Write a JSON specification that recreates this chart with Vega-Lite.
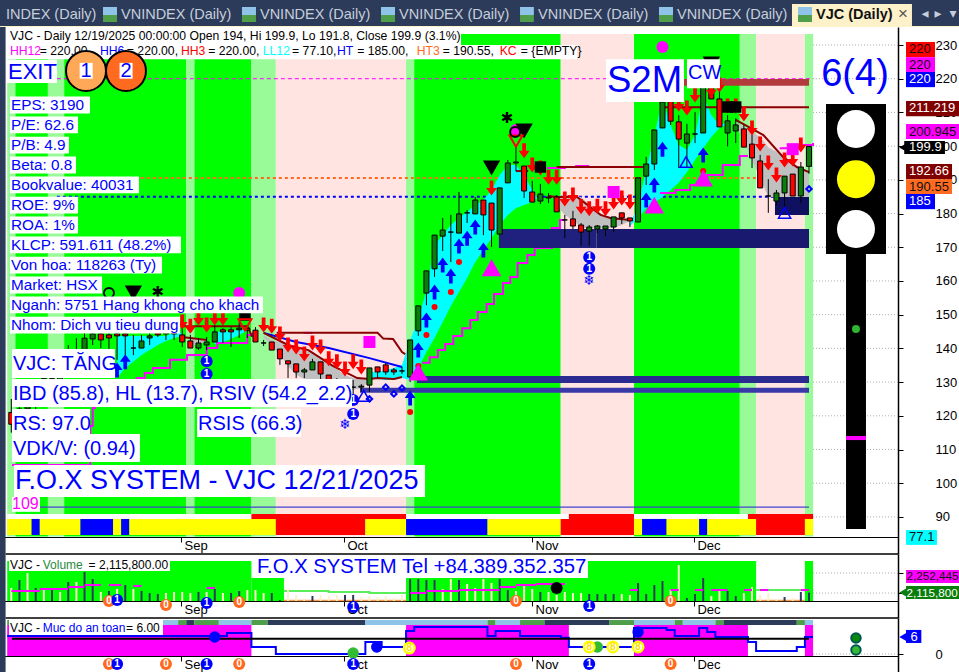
{"$schema":"https://vega.github.io/schema/vega-lite/v6.json","padding":0,"spacing":0,"bounds":"flush","background":"white","config":{"view":{"stroke":null},"font":"Liberation Sans","axis":{"title":null},"bar":{"opacity":1},"rect":{"opacity":1},"area":{"opacity":1}},
"datasets":{
"labels":[{"i":1.47,"p":222,"t":"EXIT","g":"exit"},{"i":1.84,"p":212.2,"t":"EPS: 3190","g":"info"},{"i":1.84,"p":206.3,"t":"P/E: 62.6","g":"info"},{"i":1.84,"p":200.3,"t":"P/B: 4.9","g":"info"},{"i":1.84,"p":194.4,"t":"Beta: 0.8","g":"info"},{"i":1.84,"p":188.5,"t":"Bookvalue: 40031","g":"info"},{"i":1.84,"p":182.5,"t":"ROE: 9%","g":"info"},{"i":1.84,"p":176.6,"t":"ROA: 1%","g":"info"},{"i":1.84,"p":170.7,"t":"KLCP: 591.611 (48.2%)","g":"info"},{"i":1.84,"p":164.7,"t":"Von hoa: 118263 (Ty)","g":"info"},{"i":1.84,"p":158.8,"t":"Market: HSX","g":"info"},{"i":1.84,"p":152.9,"t":"Nganh: 5751 Hang khong cho khach","g":"info"},{"i":1.84,"p":146.9,"t":"Nhom: Dich vu tieu dung","g":"info"},{"i":2.09,"p":135.4,"t":"VJC: TĂNG","g":"mid"},{"i":2.09,"p":126.5,"t":"IBD (85.8), HL (13.7), RSIV (54.2_2.2)","g":"mid"},{"i":2.09,"p":117.6,"t":"RS: 97.0","g":"mid"},{"i":24.82,"p":117.6,"t":"RSIS (66.3)","g":"mid"},{"i":2.09,"p":110.1,"t":"VDK/V:  (0.94)","g":"mid"},{"i":2.33,"p":100.7,"t":"F.O.X SYSTEM - VJC 12/21/2025","g":"fox"},{"i":75.06,"p":219.3,"t":"S2M","g":"s2m"},{"i":85.01,"p":221.7,"t":"CW","g":"cw"}],
"candles":[{"i":2,"o":121,"h":125,"l":115,"c":117.5},{"i":3,"o":118,"h":124,"l":116,"c":122},{"i":4,"o":122,"h":129,"l":120,"c":127},{"i":5,"o":127,"h":130,"l":122,"c":125},{"i":6,"o":125,"h":133,"l":124,"c":131},{"i":7,"o":131,"h":134,"l":127,"c":129},{"i":8,"o":129,"h":137,"l":128,"c":135},{"i":9,"o":135,"h":141,"l":133,"c":139},{"i":10,"o":139,"h":143,"l":135,"c":137},{"i":11,"o":137,"h":146,"l":136,"c":143},
{"i":12,"o":142.8,"h":146,"l":141,"c":144.3},{"i":13,"o":144.3,"h":146,"l":140.1,"c":142.5},{"i":14,"o":144,"h":145.5,"l":139.5,"c":143.1},{"i":15,"o":144.3,"h":146,"l":136.6,"c":143.7},{"i":16,"o":144.3,"h":146,"l":138,"c":143.7},{"i":17,"o":140.1,"h":144,"l":138,"c":140.1},{"i":18,"o":140.1,"h":144,"l":140.1,"c":142.2},{"i":19,"o":143.1,"h":145.5,"l":141,"c":143.7},{"i":20,"o":144.6,"h":146,"l":143.4,"c":144},{"i":21,"o":144.3,"h":146.9,"l":142.5,"c":145.5},{"i":22,"o":145.5,"h":146.9,"l":142.5,"c":144.3},{"i":23,"o":144,"h":146,"l":140.4,"c":141.9},{"i":24,"o":142.2,"h":144,"l":140.1,"c":140.1},{"i":25,"o":140.1,"h":143.1,"l":139.5,"c":141.6},{"i":26,"o":141,"h":143.4,"l":139.5,"c":141.9},{"i":27,"o":141.9,"h":146.9,"l":141.9,"c":144.9},{"i":28,"o":145.5,"h":146,"l":141.6,"c":144.9},{"i":29,"o":145.5,"h":146.3,"l":140.4,"c":144.9},{"i":30,"o":145.5,"h":147.8,"l":143.1,"c":146},
{"i":31,"o":146,"h":146.3,"l":143.1,"c":145.4},{"i":32,"o":145.4,"h":146.3,"l":141.9,"c":141.9},{"i":33,"o":141.6,"h":142.5,"l":140.7,"c":141.6},{"i":34,"o":141.9,"h":141.9,"l":139.5,"c":139.5},{"i":35,"o":139.8,"h":139.8,"l":135.1,"c":136.9},{"i":36,"o":136.3,"h":136.3,"l":131.2,"c":135.4},{"i":37,"o":135.4,"h":135.4,"l":131.2,"c":133},{"i":38,"o":133,"h":134.2,"l":131.2,"c":133.6},{"i":39,"o":133.6,"h":136.9,"l":133.6,"c":136},{"i":40,"o":136,"h":136,"l":130.6,"c":132.4},{"i":41,"o":132.1,"h":132.1,"l":126.2,"c":130.6},{"i":42,"o":130.6,"h":131.2,"l":126.2,"c":129.1},{"i":43,"o":130,"h":130.6,"l":126.2,"c":128.9},{"i":44,"o":128.5,"h":130.6,"l":126.2,"c":128.5},{"i":45,"o":128.5,"h":129.4,"l":127.1,"c":128.8},{"i":46,"o":129.1,"h":134.2,"l":127.1,"c":134.2},{"i":47,"o":134.5,"h":134.5,"l":131.2,"c":133},{"i":48,"o":135.1,"h":135.7,"l":132.1,"c":133},{"i":49,"o":133.6,"h":134.2,"l":132.1,"c":133},{"i":50,"o":133.3,"h":134.5,"l":132.4,"c":133.3},
{"i":51,"o":131.5,"h":142.5,"l":130,"c":142.5},{"i":52,"o":145.2,"h":152.6,"l":143.7,"c":152.6},{"i":53,"o":156.4,"h":163,"l":152.8,"c":163},{"i":54,"o":163.6,"h":173.6,"l":161.2,"c":173.6},{"i":55,"o":173.3,"h":178.7,"l":168.9,"c":175.1},{"i":56,"o":174.5,"h":179.6,"l":165.6,"c":174.5},{"i":57,"o":174.2,"h":186.4,"l":174.2,"c":179.9},{"i":58,"o":180.2,"h":181.05,"l":177.2,"c":180.2},{"i":59,"o":179.9,"h":184.9,"l":179.9,"c":184},{"i":60,"o":184,"h":184,"l":173.6,"c":179.6},{"i":61,"o":183.1,"h":183.1,"l":170.1,"c":175.1},{"i":62,"o":173.9,"h":187.6,"l":173.9,"c":187.6},{"i":63,"o":189.1,"h":195.9,"l":189.1,"c":195},{"i":64,"o":195,"h":199.7,"l":192.6,"c":195.3},{"i":65,"o":194.1,"h":194.1,"l":184.6,"c":186.7},{"i":66,"o":186.4,"h":189.7,"l":183.4,"c":183.4},{"i":67,"o":183.7,"h":188.8,"l":182.8,"c":185.8},{"i":68,"o":184.9,"h":186.1,"l":183.1,"c":184.6},{"i":69,"o":184.9,"h":185.5,"l":180.5,"c":180.5},{"i":70,"o":178.1,"h":179.6,"l":172.7,"c":178.1},{"i":71,"o":178.4,"h":180.8,"l":175.4,"c":176.3},{"i":72,"o":176.6,"h":177.2,"l":170.4,"c":174.5},{"i":73,"o":174.8,"h":176.6,"l":170.4,"c":176},{"i":74,"o":175.4,"h":176.6,"l":174.2,"c":176.3},{"i":75,"o":175.4,"h":176.3,"l":173.3,"c":176.3},{"i":76,"o":176,"h":179,"l":174.5,"c":179},{"i":77,"o":180.2,"h":180.2,"l":176.9,"c":178.7},{"i":78,"o":178.7,"h":178.7,"l":176,"c":177.8},{"i":79,"o":177.5,"h":190.6,"l":177.5,"c":190.6},{"i":80,"o":191.1,"h":196.8,"l":188.5,"c":194.7},{"i":81,"o":194.7,"h":204.8,"l":192.9,"c":204.8},{"i":82,"o":205.4,"h":215.2,"l":205.4,"c":213.1},{"i":83,"o":213.7,"h":215.2,"l":206.3,"c":207.4},{"i":84,"o":207.2,"h":209.2,"l":193.5,"c":202.1},{"i":85,"o":200.9,"h":206.6,"l":193.5,"c":203.6},{"i":86,"o":203.6,"h":210.1,"l":200.9,"c":203.6},{"i":87,"o":203.9,"h":221.1,"l":203.9,"c":219.6},{"i":88,"o":219.6,"h":221.1,"l":214,"c":214},{"i":89,"o":214,"h":218.1,"l":205.7,"c":205.7},{"i":90,"o":203.9,"h":209.2,"l":199.9,"c":207.5},{"i":91,"o":204.5,"h":208.3,"l":200.9,"c":206.3},{"i":92,"o":205.1,"h":206.3,"l":199.7,"c":199.7},{"i":93,"o":200.6,"h":203.3,"l":193.5,"c":196.5},{"i":94,"o":195.6,"h":197.4,"l":187.6,"c":187.6},{"i":95,"o":185.2,"h":190.2,"l":180.2,"c":185.2},{"i":96,"o":183.7,"h":187,"l":182.5,"c":186.1},{"i":97,"o":186.1,"h":191.1,"l":181.9,"c":191.1},{"i":98,"o":191.7,"h":191.7,"l":185.2,"c":185.2},{"i":99,"o":185.2,"h":195.3,"l":183.1,"c":193.8},{"i":100,"o":194,"h":199.9,"l":191.8,"c":199.9}],
"volume":[{"i":2,"v":3250000,"d":"down"},{"i":3,"v":5250000,"d":"up"},{"i":4,"v":7000000,"d":"down"},{"i":5,"v":3250000,"d":"up"},{"i":6,"v":2750000,"d":"down"},{"i":7,"v":3250000,"d":"up"},{"i":8,"v":2250000,"d":"down"},{"i":9,"v":4750000,"d":"up"},{"i":10,"v":4750000,"d":"down"},{"i":11,"v":7250000,"d":"up"},{"i":12,"v":5500000,"d":"up"},{"i":13,"v":2250000,"d":"down"},{"i":14,"v":2500000,"d":"up"},{"i":15,"v":3000000,"d":"down"},{"i":16,"v":4000000,"d":"up"},{"i":17,"v":3000000,"d":"down"},{"i":18,"v":2500000,"d":"up"},{"i":19,"v":2000000,"d":"up"},{"i":20,"v":1750000,"d":"up"},{"i":21,"v":2000000,"d":"down"},{"i":22,"v":2250000,"d":"down"},{"i":23,"v":2250000,"d":"down"},{"i":24,"v":2000000,"d":"down"},{"i":25,"v":2250000,"d":"up"},{"i":26,"v":2250000,"d":"down"},{"i":27,"v":3000000,"d":"up"},{"i":28,"v":2000000,"d":"down"},{"i":29,"v":2000000,"d":"up"},{"i":30,"v":2500000,"d":"up"},{"i":31,"v":2750000,"d":"down"},{"i":32,"v":2750000,"d":"down"},{"i":33,"v":2000000,"d":"down"},{"i":34,"v":2000000,"d":"up"},{"i":35,"v":250000,"d":"up"},{"i":36,"v":3000000,"d":"down"},{"i":37,"v":1500000,"d":"down"},{"i":38,"v":250000,"d":"down"},{"i":39,"v":1250000,"d":"up"},{"i":40,"v":1500000,"d":"down"},{"i":41,"v":1250000,"d":"down"},{"i":42,"v":1500000,"d":"down"},{"i":43,"v":1500000,"d":"up"},{"i":44,"v":1500000,"d":"up"},{"i":45,"v":1000000,"d":"down"},{"i":46,"v":1250000,"d":"down"},{"i":47,"v":1000000,"d":"down"},{"i":48,"v":1250000,"d":"down"},{"i":49,"v":750000,"d":"down"},{"i":50,"v":1500000,"d":"down"},{"i":51,"v":5500000,"d":"up"},{"i":52,"v":5500000,"d":"up"},{"i":53,"v":5250000,"d":"up"},{"i":54,"v":5250000,"d":"up"},{"i":55,"v":3000000,"d":"down"},{"i":56,"v":5500000,"d":"down"},{"i":57,"v":5250000,"d":"up"},{"i":58,"v":4250000,"d":"down"},{"i":59,"v":3250000,"d":"down"},{"i":60,"v":5500000,"d":"down"},{"i":61,"v":4500000,"d":"down"},{"i":62,"v":5500000,"d":"up"},{"i":63,"v":2750000,"d":"up"},{"i":64,"v":2500000,"d":"down"},{"i":65,"v":4000000,"d":"down"},{"i":66,"v":3000000,"d":"down"},{"i":67,"v":2250000,"d":"up"},{"i":68,"v":2250000,"d":"down"},{"i":69,"v":1500000,"d":"down"},{"i":70,"v":2250000,"d":"down"},{"i":71,"v":2000000,"d":"down"},{"i":72,"v":2000000,"d":"down"},{"i":73,"v":1750000,"d":"up"},{"i":74,"v":1750000,"d":"up"},{"i":75,"v":1750000,"d":"up"},{"i":76,"v":1750000,"d":"up"},{"i":77,"v":1750000,"d":"down"},{"i":78,"v":1500000,"d":"down"},{"i":79,"v":4500000,"d":"up"},{"i":80,"v":1750000,"d":"up"},{"i":81,"v":4000000,"d":"up"},{"i":82,"v":5000000,"d":"up"},{"i":83,"v":2750000,"d":"down"},{"i":84,"v":9000000,"d":"down"},{"i":85,"v":750000,"d":"up"},{"i":86,"v":1750000,"d":"up"},{"i":87,"v":5750000,"d":"up"},{"i":88,"v":1250000,"d":"down"},{"i":89,"v":2750000,"d":"down"},{"i":90,"v":2500000,"d":"up"},{"i":91,"v":1250000,"d":"up"},{"i":92,"v":2000000,"d":"down"},{"i":93,"v":3500000,"d":"down"},{"i":94,"v":1500000,"d":"down"},{"i":95,"v":2000000,"d":"down"},{"i":96,"v":500000,"d":"down"},{"i":97,"v":1000000,"d":"up"},{"i":98,"v":750000,"d":"down"},{"i":99,"v":2250000,"d":"up"},{"i":100,"v":2115800,"d":"up"}]
},
"vconcat":[
{"width":898,"height":27,
"encoding":{"x":{"field":"i","type":"quantitative","scale":{"domain":[0.614,110.934],"nice":false,"zero":false,"padding":0},"axis":null},"y":{"field":"p","type":"quantitative","scale":{"domain":[27,0],"nice":false,"zero":false},"axis":null}},
"layer":[
{"data":{"values":[{"i":0.614,"i2":118.43,"p":0,"p2":27,"k":"bar"},{"i":0.614,"i2":118.43,"p":26,"p2":27,"k":"active"},{"i":97.91,"i2":112.65,"p":4,"p2":27,"k":"active"},{"i":13.27,"i2":14.99,"p":7,"p2":15,"k":"sky"},{"i":13.27,"i2":14.99,"p":15,"p2":22,"k":"land"},{"i":30.34,"i2":32.06,"p":7,"p2":15,"k":"sky"},{"i":30.34,"i2":32.06,"p":15,"p2":22,"k":"land"},{"i":47.42,"i2":49.14,"p":7,"p2":15,"k":"sky"},{"i":47.42,"i2":49.14,"p":15,"p2":22,"k":"land"},{"i":64.5,"i2":66.2,"p":7,"p2":15,"k":"sky"},{"i":64.5,"i2":66.2,"p":15,"p2":22,"k":"land"},{"i":81.57,"i2":83.29,"p":7,"p2":15,"k":"sky"},{"i":81.57,"i2":83.29,"p":15,"p2":22,"k":"land"},{"i":98.65,"i2":100.37,"p":7,"p2":15,"k":"sky"},{"i":98.65,"i2":100.37,"p":15,"p2":22,"k":"land"}]},"mark":{"type":"rect"},"encoding":{"x2":{"field":"i2"},"y2":{"field":"p2"},"color":{"field":"k","type":"nominal","legend":null,"scale":{"domain":["bar","active","sky","land"],"range":["#2c3b5a","#fdf1c9","#8fc4e8","#4f9e4a"]}}}},
{"data":{"values":[{"i":1.35,"p":15,"t":"INDEX (Daily)"},{"i":15.48,"p":15,"t":"VNINDEX (Daily)"},{"i":32.55,"p":15,"t":"VNINDEX (Daily)"},{"i":49.63,"p":15,"t":"VNINDEX (Daily)"},{"i":66.71,"p":15,"t":"VNINDEX (Daily)"},{"i":83.78,"p":15,"t":"VNINDEX (Daily)"}]},"mark":{"type":"text","align":"left","baseline":"middle","fontSize":14.5,"color":"#c6cedb"},"encoding":{"text":{"field":"t"}}},
{"data":{"values":[{"i":100.86,"p":15,"t":"VJC (Daily)"}]},"mark":{"type":"text","align":"left","baseline":"middle","fontSize":14.5,"fontWeight":"bold","color":"#111"},"encoding":{"text":{"field":"t"}}},
{"data":{"values":[{"i":111.55,"p":14,"t":"×"}]},"mark":{"type":"text","align":"center","baseline":"middle","fontSize":17,"color":"#555"},"encoding":{"text":{"field":"t"}}},
{"data":{"values":[{"i":114.25,"p":14,"t":"◂"},{"i":115.85,"p":14,"t":"▸"},{"i":117.69,"p":14,"t":"▾"}]},"mark":{"type":"text","align":"center","baseline":"middle","fontSize":14,"font":"DejaVu Sans","color":"#c6cedb"},"encoding":{"text":{"field":"t"}}}
]},
{"width":898,"height":527,"resolve":{"scale":{"color":"independent"}},
"encoding":{"x":{"field":"i","type":"quantitative","scale":{"domain":[0.614,110.934],"nice":false,"zero":false,"padding":0},"axis":{"orient":"bottom","offset":-17,"values":[22.85,42.87,65.97,85.87],"labelExpr":"datum.value<30?'Sep':datum.value<50?'Oct':datum.value<75?'Nov':'Dec'","grid":false,"tickSize":5,"tickColor":"black","domainColor":"black","labelAlign":"left","labelBaseline":"top","labelPadding":-3,"labelOffset":3,"labelFontSize":13,"labelColor":"black","labelFlush":false,"labelOverlap":false}},"y":{"field":"p","type":"quantitative","scale":{"domain":[79,235.34],"nice":false,"zero":false},"axis":{"orient":"right","values":[90,100,110,120,130,140,150,160,170,180,190,200,210,220,230],"grid":false,"tickSize":5,"tickColor":"black","domainColor":"black","domainWidth":1.5,"labelPadding":32,"labelAlign":"left","labelFontSize":13,"labelColor":"black"}}},
"layer":[
{"data":{"values":[{"i":1.5,"i2":2.5,"p":233.3,"p2":84.2,"k":"Neutral"},{"i":2.5,"i2":6.5,"p":233.3,"p2":84.2,"k":"Bull"},{"i":6.5,"i2":8.5,"p":233.3,"p2":84.2,"k":"Neutral"},{"i":8.5,"i2":23.5,"p":233.3,"p2":84.2,"k":"Bull"},{"i":23.5,"i2":24.5,"p":233.3,"p2":84.2,"k":"Neutral"},{"i":24.5,"i2":31.5,"p":233.3,"p2":84.2,"k":"Bull"},{"i":31.5,"i2":34.5,"p":233.3,"p2":84.2,"k":"Neutral"},{"i":34.5,"i2":50.5,"p":233.3,"p2":84.2,"k":"Bear"},{"i":50.5,"i2":51.5,"p":233.3,"p2":84.2,"k":"Neutral"},{"i":51.5,"i2":69.5,"p":233.3,"p2":84.2,"k":"Bull"},{"i":69.5,"i2":78.5,"p":233.3,"p2":84.2,"k":"Bear"},{"i":78.5,"i2":91.5,"p":233.3,"p2":84.2,"k":"Bull"},{"i":91.5,"i2":93.5,"p":233.3,"p2":84.2,"k":"Neutral"},{"i":93.5,"i2":99.5,"p":233.3,"p2":84.2,"k":"Bear"},{"i":99.5,"i2":100.5,"p":233.3,"p2":84.2,"k":"Neutral"},
{"i":1.5,"i2":100.5,"p":90.9,"p2":89.4,"k":"Gap"},{"i":31.5,"i2":50.5,"p":90.9,"p2":89.4,"k":"Falling"},{"i":70.5,"i2":78.5,"p":90.9,"p2":89.4,"k":"Falling"},{"i":92.5,"i2":100.5,"p":90.9,"p2":89.4,"k":"Falling"},
{"i":1.5,"i2":4.5,"p":89.4,"p2":84.65,"k":"Sideways"},{"i":4.5,"i2":5.5,"p":89.4,"p2":84.65,"k":"Rising"},{"i":5.5,"i2":10.5,"p":89.4,"p2":84.65,"k":"Sideways"},{"i":10.5,"i2":14.5,"p":89.4,"p2":84.65,"k":"Rising"},{"i":14.5,"i2":15.5,"p":89.4,"p2":84.65,"k":"Sideways"},{"i":15.5,"i2":16.5,"p":89.4,"p2":84.65,"k":"Rising"},{"i":16.5,"i2":34.5,"p":89.4,"p2":84.65,"k":"Sideways"},{"i":34.5,"i2":45.5,"p":89.4,"p2":84.65,"k":"Falling"},{"i":45.5,"i2":50.5,"p":89.4,"p2":84.65,"k":"Sideways"},{"i":50.5,"i2":60.5,"p":89.4,"p2":84.65,"k":"Rising"},{"i":60.5,"i2":69.5,"p":89.4,"p2":84.65,"k":"Sideways"},{"i":69.5,"i2":78.5,"p":89.4,"p2":84.65,"k":"Falling"},{"i":78.5,"i2":79.5,"p":89.4,"p2":84.65,"k":"Sideways"},{"i":79.5,"i2":82.5,"p":89.4,"p2":84.65,"k":"Rising"},{"i":82.5,"i2":86.5,"p":89.4,"p2":84.65,"k":"Sideways"},{"i":86.5,"i2":87.5,"p":89.4,"p2":84.65,"k":"Rising"},{"i":87.5,"i2":93.5,"p":89.4,"p2":84.65,"k":"Sideways"},{"i":93.5,"i2":99.5,"p":89.4,"p2":84.65,"k":"Falling"},{"i":99.5,"i2":100.5,"p":89.4,"p2":84.65,"k":"Sideways"}]},
"mark":{"type":"rect"},"encoding":{"x2":{"field":"i2"},"y2":{"field":"p2"},"color":{"field":"k","type":"nominal","legend":null,"scale":{"domain":["Bull","Neutral","Bear","Gap","Rising","Sideways","Falling"],"range":["#00ff00","#98fb98","#ffe4e1","#ffffff","#0000ff","#ffff00","#ff0000"]}}}},
{"data":{"values":[{"p":90,"i":100.5,"i2":110.934},{"p":100,"i":100.5,"i2":110.934},{"p":110,"i":100.5,"i2":110.934},{"p":120,"i":100.5,"i2":110.934},{"p":130,"i":100.5,"i2":110.934},{"p":140,"i":100.5,"i2":110.934},{"p":150,"i":100.5,"i2":110.934},{"p":160,"i":100.5,"i2":110.934},{"p":170,"i":100.5,"i2":110.934},{"p":180,"i":100.5,"i2":110.934},{"p":190,"i":100.5,"i2":110.934},{"p":200,"i":100.5,"i2":110.934},{"p":210,"i":100.5,"i2":110.934},{"p":220,"i":100.5,"i2":110.934},{"p":230,"i":100.5,"i2":110.934}]},"mark":{"type":"rule","color":"#aaa","strokeDash":[1,2]},"encoding":{"x2":{"field":"i2"}}},
{"data":{"values":[{"p":220,"i":7.6,"i2":100.5}]},"mark":{"type":"rule","color":"#ff00ff","strokeDash":[4,3],"strokeWidth":1},"encoding":{"x2":{"field":"i2"}}},
{"data":{"values":[{"p":190.55,"i":7.6,"i2":100}]},"mark":{"type":"rule","color":"#ff6a20","strokeDash":[3,3],"strokeWidth":2},"encoding":{"x2":{"field":"i2"}}},
{"data":{"values":[{"p":185,"i":7.6,"i2":100}]},"mark":{"type":"rule","color":"#0000ff","strokeDash":[3,3],"strokeWidth":2},"encoding":{"x2":{"field":"i2"}}},
{"data":{"values":[{"s":"a","i":15,"p":143.7,"p2":131.2},{"s":"a","i":16,"p":143.7,"p2":134.2},{"s":"a","i":17,"p":143.7,"p2":136},{"s":"a","i":18,"p":143.7,"p2":138},{"s":"a","i":19,"p":143.7,"p2":139.5},{"s":"a","i":20,"p":143.7,"p2":141},{"s":"a","i":21,"p":143.7,"p2":142.2},{"s":"a","i":22,"p":144.6,"p2":143.1},{"s":"a","i":23,"p":144.6,"p2":143.7},
{"s":"b","i":26.6,"p":144.9,"p2":144.6},{"s":"b","i":27,"p":144.9,"p2":141.3},{"s":"b","i":28,"p":144.9,"p2":141.9},{"s":"b","i":29,"p":145.2,"p2":142.8},{"s":"b","i":30,"p":145.5,"p2":144},{"s":"b","i":31,"p":145.5,"p2":145.2},
{"s":"c","i":46,"p":133,"p2":131.2},{"s":"c","i":47,"p":133,"p2":130.9},{"s":"c","i":48,"p":133.6,"p2":130.6},{"s":"c","i":49,"p":134.2,"p2":130.6},{"s":"c","i":50,"p":135.1,"p2":131.2},{"s":"c","i":51,"p":142.5,"p2":130.6},{"s":"c","i":52,"p":148.4,"p2":134.2},{"s":"c","i":53,"p":157.3,"p2":138.9},{"s":"c","i":54,"p":170.7,"p2":143.1},{"s":"c","i":55,"p":173.6,"p2":147.8},{"s":"c","i":56,"p":176.6,"p2":152.6},{"s":"c","i":57,"p":178.7,"p2":156.7},{"s":"c","i":58,"p":180.5,"p2":160.9},{"s":"c","i":59,"p":182.5,"p2":165.6},{"s":"c","i":60,"p":184,"p2":169.2},{"s":"c","i":61,"p":187,"p2":172.7},{"s":"c","i":62,"p":191.4,"p2":176.6},{"s":"c","i":63,"p":194.4,"p2":179.6},{"s":"c","i":64,"p":194.4,"p2":181.6},{"s":"c","i":65,"p":191.4,"p2":182.5},{"s":"c","i":66,"p":187,"p2":183.4},{"s":"c","i":66.6,"p":184.6,"p2":184.6},
{"s":"d","i":78,"p":176.6,"p2":176.3},{"s":"d","i":79,"p":182.5,"p2":178.7},{"s":"d","i":80,"p":192.9,"p2":181.6},{"s":"d","i":81,"p":203.3,"p2":183.1},{"s":"d","i":82,"p":213.7,"p2":184.9},{"s":"d","i":83,"p":206.3,"p2":187},{"s":"d","i":84,"p":200.3,"p2":189.1},{"s":"d","i":85,"p":198.9,"p2":192.3},{"s":"d","i":86,"p":203.3,"p2":195.9},{"s":"d","i":87,"p":215.2,"p2":199.4},{"s":"d","i":88,"p":209.2,"p2":202.7},{"s":"d","i":89,"p":206.3,"p2":205.4},{"s":"d","i":90,"p":206.9,"p2":206.6}]},"mark":{"type":"area","color":"#00ffff","opacity":1},"encoding":{"y2":{"field":"p2"},"detail":{"field":"s"}}},
{"data":{"values":[{"s":"a","i":24,"p":143.1,"p2":141},{"s":"a","i":25,"p":143.1,"p2":141},{"s":"a","i":26,"p":142.5,"p2":142.2},
{"s":"b","i":33,"p":144,"p2":143.1},{"s":"b","i":34,"p":142.5,"p2":141},{"s":"b","i":35,"p":141.9,"p2":138},{"s":"b","i":36,"p":141,"p2":134.8},{"s":"b","i":37,"p":140.4,"p2":132.1},{"s":"b","i":38,"p":139.8,"p2":130.9},{"s":"b","i":39,"p":138.9,"p2":126.2},{"s":"b","i":40,"p":137.1,"p2":126.2},{"s":"b","i":41,"p":135.4,"p2":126.2},{"s":"b","i":42,"p":133.9,"p2":126.2},{"s":"b","i":43,"p":132.1,"p2":126.2},{"s":"b","i":44,"p":131.2,"p2":127.7},{"s":"b","i":45,"p":130.9,"p2":128.2},{"s":"b","i":46,"p":130.6,"p2":130.3},
{"s":"c","i":69,"p":184.9,"p2":182.5},{"s":"c","i":70,"p":185.2,"p2":179.6},{"s":"c","i":71,"p":185.5,"p2":178.1},{"s":"c","i":72,"p":184.9,"p2":175.7},{"s":"c","i":73,"p":182.5,"p2":175.7},{"s":"c","i":74,"p":180.5,"p2":175.7},{"s":"c","i":75,"p":179.3,"p2":175.7},{"s":"c","i":76,"p":178.7,"p2":175.7},{"s":"c","i":77,"p":178.4,"p2":176.6},{"s":"c","i":78,"p":178.1,"p2":177.8},
{"s":"d","i":91,"p":207.2,"p2":206.3},{"s":"d","i":92,"p":205.7,"p2":201.2},{"s":"d","i":93,"p":204.2,"p2":195.9},{"s":"d","i":94,"p":202.7,"p2":190.5},{"s":"d","i":95,"p":199.7,"p2":184.9},{"s":"d","i":96,"p":198.3,"p2":184.9},{"s":"d","i":97,"p":195.9,"p2":184.9},{"s":"d","i":98,"p":194.4,"p2":184.9},{"s":"d","i":99,"p":193.5,"p2":184.9},{"s":"d","i":100,"p":192.3,"p2":184.9}]},"mark":{"type":"area","color":"#c0c0c0","opacity":1},"encoding":{"y2":{"field":"p2"},"detail":{"field":"s"}}},
{"data":{"values":[{"s":"a","i":2.1,"p":105.4},{"s":"a","i":11.7,"p":117},{"s":"a","i":12,"p":122.3},{"s":"a","i":12.3,"p":123},{"s":"a","i":14,"p":127},{"s":"a","i":15.5,"p":129.5},{"s":"a","i":17.4,"p":131.2},{"s":"a","i":18.4,"p":132.7},{"s":"a","i":19.4,"p":134.2},{"s":"a","i":21.5,"p":136.6},{"s":"a","i":23.6,"p":138},{"s":"a","i":26,"p":140.1},{"s":"a","i":27.3,"p":141.6},{"s":"a","i":31,"p":144},{"s":"a","i":31.6,"p":144.6},
{"s":"b","i":37.9,"p":144.6},{"s":"b","i":39,"p":144.6},
{"s":"c","i":52.5,"p":135.7},{"s":"c","i":53.4,"p":137.4},{"s":"c","i":54.4,"p":139.5},{"s":"c","i":55.3,"p":141.3},{"s":"c","i":56.3,"p":143.7},{"s":"c","i":57.4,"p":146},{"s":"c","i":58.4,"p":148.4},{"s":"c","i":59.3,"p":150.8},{"s":"c","i":60.4,"p":153.2},{"s":"c","i":61.3,"p":156.1},{"s":"c","i":62.4,"p":159.4},{"s":"c","i":63.3,"p":161.2},{"s":"c","i":64.2,"p":165.3},{"s":"c","i":65.4,"p":167.7},{"s":"c","i":66.3,"p":169.8},{"s":"c","i":68.4,"p":175.7},{"s":"c","i":69.4,"p":178.1},{"s":"c","i":70,"p":178.1},
{"s":"d","i":67.8,"p":193.5},{"s":"d","i":70,"p":193.8},{"s":"d","i":71.4,"p":194.1},{"s":"d","i":73,"p":194.1},
{"s":"e","i":81.7,"p":186.1},{"s":"e","i":83.6,"p":187},{"s":"e","i":85.4,"p":188.5},{"s":"e","i":87.5,"p":191.4},{"s":"e","i":89.4,"p":194.4},{"s":"e","i":91.5,"p":197.1},{"s":"e","i":92.5,"p":197.1},
{"s":"f","i":96.4,"p":199.4},{"s":"f","i":97.6,"p":200.3},{"s":"f","i":100.5,"p":200.9}]},"mark":{"type":"line","color":"#ff00ff","strokeWidth":2,"interpolate":"step-after"},"encoding":{"detail":{"field":"s"}}},
{"data":{"values":[{"s":"a","i":33,"p":144.6},{"s":"a","i":37,"p":141.9},{"s":"a","i":41,"p":140.1},{"s":"a","i":46,"p":137.1},{"s":"a","i":50,"p":134.5}]},"mark":{"type":"line","color":"#0000ff","strokeWidth":2},"encoding":{"detail":{"field":"s"}}},
{"data":{"values":[{"s":"a","i":23,"p":146.6},{"s":"a","i":31,"p":146.6},{"s":"a","i":31.6,"p":143.4},
{"s":"b","i":34.6,"p":144.6},{"s":"b","i":47,"p":144.6},{"s":"b","i":47.7,"p":142.9},{"s":"b","i":48.9,"p":142.8},{"s":"b","i":50,"p":138.9},{"s":"b","i":50.4,"p":138.3},
{"s":"c","i":23,"p":143.4},{"s":"c","i":26,"p":142.5},
{"s":"d","i":33,"p":144.6},{"s":"d","i":36,"p":141},{"s":"d","i":38.5,"p":139.5},{"s":"d","i":41.5,"p":134.8},{"s":"d","i":44.5,"p":131.2},{"s":"d","i":46,"p":130.9},{"s":"d","i":47,"p":131.2},{"s":"d","i":49,"p":130.9},{"s":"d","i":50,"p":131.5},
{"s":"e","i":69,"p":193.8},{"s":"e","i":79.6,"p":193.8},
{"s":"f","i":64,"p":192.6},{"s":"f","i":65.5,"p":192.6},
{"s":"g","i":68,"p":185.2},{"s":"g","i":69,"p":184.9},{"s":"g","i":71.5,"p":184.9},{"s":"g","i":74.4,"p":179.6},{"s":"g","i":75.6,"p":178.7},{"s":"g","i":78,"p":178.1},
{"s":"h","i":82,"p":211.5},{"s":"h","i":100,"p":211.5},
{"s":"j","i":91,"p":207.8},{"s":"j","i":94.4,"p":203.3},{"s":"j","i":96.8,"p":196.8},{"s":"j","i":98.5,"p":193.8},{"s":"j","i":100,"p":192.3}]},"mark":{"type":"line","color":"#8b0000","strokeWidth":2},"encoding":{"detail":{"field":"s"}}},
{"data":{"values":[{"i":84.64,"i2":100,"p":219.9,"p2":217.9,"k":"resist"},{"i":61.9,"i2":73.9,"p":175.4,"p2":169.8,"k":"s1a"},{"i":73.9,"i2":100,"p":175.4,"p2":169.8,"k":"s1b"},{"i":95.82,"i2":100,"p":184.9,"p2":179.6,"k":"s2"},{"i":51.84,"i2":100,"p":131.8,"p2":129.7,"k":"s3"},{"i":44.84,"i2":100,"p":128.3,"p2":126.8,"k":"s4"},{"i":5.5,"i2":100,"p":93.1,"p2":92.7,"k":"base"}]},"mark":{"type":"rect"},"encoding":{"x2":{"field":"i2"},"y2":{"field":"p2"},"color":{"field":"k","type":"nominal","legend":null,"scale":{"domain":["resist","s1a","s1b","s2","s3","s4","base"],"range":["#b23c3c","#20207f","#191970","#101060","#2a2a90","#3838a8","#4545d0"]}}}},
{"data":{"name":"candles"},"transform":[{"calculate":"datum.h","as":"p"},{"calculate":"datum.l","as":"p2"}],"mark":{"type":"rule","color":"black","strokeWidth":1},"encoding":{"y2":{"field":"p2"}}},
{"data":{"name":"candles"},"transform":[{"calculate":"datum.o","as":"p"},{"calculate":"datum.c","as":"p2"}],"mark":{"type":"bar","orient":"vertical","size":5,"stroke":"black","strokeWidth":1,"opacity":1},"encoding":{"y2":{"field":"p2"},"color":{"condition":{"test":"datum.c>=datum.o","value":"#0a7d0a"},"value":"#ff0000"}}},
{"data":{"values":[{"i":24,"p":146.6},{"i":25,"p":149},{"i":26,"p":146.9},{"i":27,"p":149},{"i":28,"p":149},{"i":33,"p":146.9},{"i":34,"p":146.6},{"i":35,"p":144.3},{"i":36,"p":141},{"i":37,"p":140.4},{"i":38,"p":138.3},{"i":39,"p":141.6},{"i":40,"p":140.4},{"i":41,"p":136.9},{"i":42,"p":136},{"i":43,"p":133.9},{"i":44,"p":136},{"i":45,"p":134.5},{"i":23,"p":147.8},{"i":61,"p":187.6},{"i":65,"p":198.6},{"i":66,"p":194.4},{"i":67,"p":193.5},{"i":68,"p":190.8},{"i":69,"p":190.8},{"i":70,"p":184.3},{"i":71,"p":185.5},{"i":72,"p":182},{"i":73,"p":181.4},{"i":74,"p":182.2},{"i":75,"p":181.4},{"i":76,"p":183.4},{"i":77,"p":184.6},{"i":78,"p":183.4},{"i":84,"p":212.5},{"i":85,"p":211.3},{"i":86,"p":215.2},{"i":88,"p":216.7},{"i":89,"p":218.1},{"i":90,"p":211.9},{"i":91,"p":211.9},{"i":92,"p":209.5},{"i":93,"p":205.4},{"i":94,"p":200.6},{"i":95,"p":195},{"i":96,"p":191.4},{"i":97,"p":195.9},{"i":98,"p":196.2},{"i":99,"p":200.3}]},"mark":{"type":"point","filled":true,"opacity":1,"color":"#ff0000","size":225,"shape":"M-0.25,-1L0.25,-1L0.25,0L0.73,0L0,1L-0.73,0L-0.25,0Z"}},
{"data":{"values":[{"i":51,"p":125.3},{"i":52,"p":139.5},{"i":53,"p":148.4},{"i":54,"p":156.7},{"i":55,"p":164.7},{"i":56,"p":161.5},{"i":57,"p":170.4},{"i":58,"p":172.7},{"i":59,"p":176},{"i":60,"p":169.2},{"i":80,"p":184},{"i":81,"p":188.5},{"i":82,"p":199.1},{"i":87,"p":197.4},{"i":15,"p":133.6},{"i":16,"p":136}]},"mark":{"type":"point","filled":true,"opacity":1,"color":"#0000ff","size":225,"shape":"M-0.25,1L0.25,1L0.25,0L0.73,0L0,-1L-0.73,0L-0.25,0Z"}},
{"data":{"values":[{"i":51,"p":121.1},{"i":52,"p":134.8},{"i":53,"p":144},{"i":54,"p":152.3},{"i":56,"p":156.7},{"i":57,"p":165.6},{"i":87,"p":192.6}]},"mark":{"type":"point","filled":true,"opacity":1,"color":"#ff0000","size":36,"shape":"circle"}},
{"data":{"values":[{"i":61,"p":163.9},{"i":52,"p":133},{"i":81,"p":182.5},{"i":87,"p":190.5}]},"mark":{"type":"point","filled":true,"opacity":1,"color":"#ff00ff","size":380,"shape":"triangle-up"}},
{"data":{"values":[{"i":46,"p":141.9},{"i":76,"p":186.4},{"i":98,"p":199.1}]},"mark":{"type":"point","filled":true,"opacity":1,"color":"#ff00ff","size":144,"shape":"square"}},
{"data":{"values":[{"i":82,"p":229.4},{"i":30,"p":156.4},{"i":64,"p":204.8}]},"mark":{"type":"point","filled":true,"opacity":1,"color":"#ff00ff","size":144,"shape":"circle"}},
{"data":{"values":[{"i":61,"p":193.5},{"i":65,"p":204.5},{"i":88,"p":224.4},{"i":17,"p":156.4}]},"mark":{"type":"point","filled":true,"opacity":1,"color":"#000","size":300,"shape":"triangle-down"}},
{"data":{"values":[{"i":67,"p":193.8},{"i":90,"p":211.6},{"i":91,"p":211.6},{"i":30.7,"p":149.9}]},"mark":{"type":"point","filled":true,"opacity":1,"color":"#000","size":130,"shape":"square"}},
{"data":{"values":[{"i":64,"p":201.5},{"i":30.7,"p":147}]},"mark":{"type":"point","filled":false,"opacity":1,"color":"#ff0000","size":170,"shape":"triangle-down"}},
{"data":{"values":[{"i":63.9,"p":204.2},{"i":14,"p":156.4}]},"mark":{"type":"point","filled":false,"opacity":1,"color":"#000","strokeWidth":2,"size":100,"shape":"circle"}},
{"data":{"values":[{"i":62.9,"p":208.3,"t":"✱"},{"i":20,"p":156.7,"t":"✱"}]},"mark":{"type":"text","font":"DejaVu Sans","fontSize":15,"color":"#000","align":"center","baseline":"middle"},"encoding":{"text":{"field":"t"}}},
{"data":{"values":[{"i":84.9,"p":195.3},{"i":45.3,"p":125.9},{"i":97,"p":180.2}]},"mark":{"type":"point","filled":false,"opacity":1,"color":"#0000ff","strokeWidth":1.5,"size":150,"shape":"triangle-up"}},
{"data":{"values":[{"i":100,"p":187.3},{"i":46,"p":125},{"i":48,"p":128.5},{"i":49,"p":126.5},{"i":50,"p":128.2}]},"mark":{"type":"point","filled":false,"opacity":1,"color":"#0000ff","size":30,"shape":"diamond"}},
{"data":{"values":[{"i":73,"p":167},{"i":73,"p":163.6},{"i":26,"p":136.2},{"i":26,"p":132.4},{"i":44,"p":124.7},{"i":44,"p":120.5}]},"mark":{"type":"point","filled":true,"opacity":1,"color":"#0000ff","size":144,"shape":"circle"}},
{"data":{"values":[{"i":73,"p":167,"t":"1"},{"i":73,"p":163.6,"t":"1"},{"i":26,"p":136.2,"t":"1"},{"i":26,"p":132.4,"t":"1"},{"i":44,"p":124.7,"t":"1"},{"i":44,"p":120.5,"t":"1"}]},"mark":{"type":"text","fontSize":10,"fontWeight":"bold","color":"white","align":"center","baseline":"middle"},"encoding":{"text":{"field":"t"}}},
{"data":{"values":[{"i":73,"p":160,"t":"❄"},{"i":43,"p":117.3,"t":"❄"}]},"mark":{"type":"text","font":"DejaVu Sans","fontSize":14,"color":"#0000ff","align":"center","baseline":"middle"},"encoding":{"text":{"field":"t"}}},
{"data":{"values":[{"i":1.47,"i2":57.25,"p":234.2,"p2":230},{"i":1.47,"i2":71.5,"p":230,"p2":225.8},{"i":1.47,"i2":7.62,"p":225.6,"p2":218.7},{"i":1.84,"i2":11.67,"p":214.7,"p2":209.7},{"i":1.84,"i2":10.2,"p":208.8,"p2":203.8},{"i":1.84,"i2":9.09,"p":202.8,"p2":197.8},{"i":1.84,"i2":9.95,"p":196.9,"p2":191.9},{"i":1.84,"i2":17.69,"p":191,"p2":186},{"i":1.84,"i2":10.2,"p":185,"p2":180},{"i":1.84,"i2":10.2,"p":179.1,"p2":174.1},{"i":1.84,"i2":22.85,"p":173.2,"p2":168.2},{"i":1.84,"i2":20.52,"p":167.2,"p2":162.2},{"i":1.84,"i2":13.15,"p":161.3,"p2":156.3},{"i":1.84,"i2":32.92,"p":155.4,"p2":150.4},{"i":1.84,"i2":22.73,"p":149.4,"p2":144.4},{"i":2.09,"i2":14.74,"p":139.8,"p2":131.2},{"i":2.09,"i2":43.86,"p":130.9,"p2":122.6},{"i":2.09,"i2":11.67,"p":122,"p2":113.7},{"i":24.82,"i2":37.59,"p":122,"p2":113.7},{"i":2.09,"i2":17.81,"p":114.6,"p2":106.3},{"i":2.33,"i2":52.83,"p":105.4,"p2":95.9},{"i":2.09,"i2":5.53,"p":95.9,"p2":91.5},{"i":75.06,"i2":84.64,"p":225.8,"p2":213.1},{"i":85.01,"i2":89.06,"p":225.8,"p2":217.2}]},"mark":{"type":"rect","color":"white"},"encoding":{"x2":{"field":"i2"},"y2":{"field":"p2"}}},
{"data":{"name":"labels"},"transform":[{"filter":"datum.g==='info'"}],"mark":{"type":"text","align":"left","baseline":"middle","color":"#0000ff","dx":1,"fontSize":15.3},"encoding":{"text":{"field":"t"}}},
{"data":{"name":"labels"},"transform":[{"filter":"datum.g==='mid'"}],"mark":{"type":"text","align":"left","baseline":"middle","color":"#0000ff","dx":1,"fontSize":20},"encoding":{"text":{"field":"t"}}},
{"data":{"name":"labels"},"transform":[{"filter":"datum.g==='exit'"}],"mark":{"type":"text","align":"left","baseline":"middle","color":"#0000ff","dx":1,"fontSize":22},"encoding":{"text":{"field":"t"}}},
{"data":{"name":"labels"},"transform":[{"filter":"datum.g==='cw'"}],"mark":{"type":"text","align":"left","baseline":"middle","color":"#0000ff","dx":1,"fontSize":20},"encoding":{"text":{"field":"t"}}},
{"data":{"name":"labels"},"transform":[{"filter":"datum.g==='fox'"}],"mark":{"type":"text","align":"left","baseline":"middle","color":"#0000ff","dx":1,"fontSize":27},"encoding":{"text":{"field":"t"}}},
{"data":{"name":"labels"},"transform":[{"filter":"datum.g==='s2m'"}],"mark":{"type":"text","align":"left","baseline":"middle","color":"#0000ff","dx":1,"fontSize":36.5},"encoding":{"text":{"field":"t"}}},
{"data":{"values":[{"i":2.09,"p":93.8,"t":"109"}]},"mark":{"type":"text","align":"left","baseline":"middle","color":"#ff00ff","fontSize":16},"encoding":{"text":{"field":"t"}}},
{"data":{"values":[{"i":1.84,"p":232.7,"t":"VJC - Daily 12/19/2025 00:00:00 Open 194, Hi 199.9, Lo 191.8, Close 199.9 (3.1%)","k":"plain"},{"i":1.84,"p":228.2,"t":"HH12","k":"HH12"},{"i":5.5,"p":228.2,"t":"= 220.00,","k":"plain"},{"i":12.9,"p":228.2,"t":"HH6","k":"HH6"},{"i":16.2,"p":228.2,"t":"= 220.00,","k":"plain"},{"i":22.85,"p":228.2,"t":"HH3","k":"HH3"},{"i":26.2,"p":228.2,"t":"= 220.00,","k":"plain"},{"i":32.9,"p":228.2,"t":"LL12","k":"LL12"},{"i":36.5,"p":228.2,"t":"= 77.10,","k":"plain"},{"i":42,"p":228.2,"t":"HT","k":"HH6"},{"i":44.5,"p":228.2,"t":"= 185.00,","k":"plain"},{"i":51.8,"p":228.2,"t":"HT3","k":"HT3"},{"i":55,"p":228.2,"t":"= 190.55,","k":"plain"},{"i":62,"p":228.2,"t":"KC","k":"HH3"},{"i":64.6,"p":228.2,"t":"= {EMPTY}","k":"plain"}]},"mark":{"type":"text","align":"left","baseline":"middle","fontSize":12.2},"encoding":{"text":{"field":"t"},"color":{"field":"k","type":"nominal","legend":null,"scale":{"domain":["plain","HH12","HH6","HH3","LL12","HT3"],"range":["#000000","#ff00ff","#0000ff","#ff0000","#00ffff","#ff6a20"]}}}},
{"data":{"values":[{"i":11.18,"p":222.3}]},"mark":{"type":"point","filled":true,"opacity":1,"fill":"#ffa858","stroke":"black","size":1600,"shape":"circle"}},
{"data":{"values":[{"i":16.09,"p":222.3}]},"mark":{"type":"point","filled":true,"opacity":1,"fill":"#ff6a20","stroke":"black","size":1600,"shape":"circle"}},
{"data":{"values":[{"i":10.4,"i2":12,"p":224.7,"p2":220},{"i":15.3,"i2":16.9,"p":224.7,"p2":220}]},"mark":{"type":"rect","color":"white"},"encoding":{"x2":{"field":"i2"},"y2":{"field":"p2"}}},
{"data":{"values":[{"i":11.18,"p":222.2,"t":"1"},{"i":16.09,"p":222.2,"t":"2"}]},"mark":{"type":"text","align":"center","baseline":"middle","fontSize":20,"color":"#0000ff"},"encoding":{"text":{"field":"t"}}},
{"data":{"values":[{"i":102.09,"i2":109.46,"p":212.5,"p2":168},{"i":104.55,"i2":107,"p":168,"p2":86.4}]},"mark":{"type":"rect","color":"black"},"encoding":{"x2":{"field":"i2"},"y2":{"field":"p2"}}},
{"data":{"values":[{"i":105.77,"p":205.1,"k":"off"},{"i":105.77,"p":190.2,"k":"on"},{"i":105.77,"p":175.4,"k":"off"}]},"mark":{"type":"point","filled":true,"opacity":1,"size":1444,"shape":"circle"},"encoding":{"color":{"condition":{"test":"datum.k==='on'","value":"#ffff00"},"value":"#ffffff"}}},
{"data":{"values":[{"i":105.77,"p":145.75}]},"mark":{"type":"point","filled":true,"opacity":1,"size":64,"color":"#2fb52f","shape":"circle"}},
{"data":{"values":[{"i":104.55,"i2":107,"p":114,"p2":112.8}]},"mark":{"type":"rect","color":"#ff00ff"},"encoding":{"x2":{"field":"i2"},"y2":{"field":"p2"}}},
{"data":{"values":[{"i":105.65,"p":221.1,"t":"6(4)"}]},"mark":{"type":"text","align":"center","baseline":"middle","fontSize":38,"color":"#0000ff"},"encoding":{"text":{"field":"t"}}},
{"data":{"values":[{"i":111.92,"i2":115.48,"p":230.9,"p2":226.4,"k":"HH3","t":"220"},{"i":111.92,"i2":115.48,"p":226.4,"p2":222,"k":"HH12","t":"220"},{"i":111.92,"i2":115.48,"p":222,"p2":217.5,"k":"HH6","t":"220"},{"i":111.92,"i2":118.43,"p":213.4,"p2":208.9,"k":"Stop","t":"211.219"},{"i":111.92,"i2":118.43,"p":206.6,"p2":202.1,"k":"HH12","t":"200.945"},{"i":111.7,"i2":116.7,"p":201.5,"p2":197.7,"k":"Close","t":"199.9"},{"i":111.92,"i2":117.57,"p":194.7,"p2":190.2,"k":"Stop","t":"192.66"},{"i":111.92,"i2":117.57,"p":190.2,"p2":185.8,"k":"HT3","t":"190.55"},{"i":111.92,"i2":115.48,"p":185.8,"p2":181.3,"k":"HH6","t":"185"},{"i":111.92,"i2":115.72,"p":86.1,"p2":81.7,"k":"LL12","t":"77.1"}]},"mark":{"type":"rect"},"encoding":{"x2":{"field":"i2"},"y2":{"field":"p2"},"color":{"field":"k","type":"nominal","legend":null,"scale":{"domain":["HH3","HH12","HH6","Stop","Close","HT3","LL12"],"range":["#ff0000","#ff00ff","#0000ff","#800000","#000000","#ff6a20","#00ffff"]}}}},
{"data":{"values":[{"i":111.7,"p":199.6}]},"mark":{"type":"point","filled":true,"opacity":1,"color":"#000","size":130,"shape":"triangle-left"}},
{"data":{"values":[{"i":112.3,"p":228.7,"t":"220","k":"d"},{"i":112.3,"p":224.2,"t":"220","k":"d"},{"i":112.3,"p":219.8,"t":"220","k":"l"},{"i":112.3,"p":211.2,"t":"211.219","k":"l"},{"i":112.3,"p":204.3,"t":"200.945","k":"d"},{"i":112.3,"p":199.6,"t":"199.9","k":"l"},{"i":112.3,"p":192.5,"t":"192.66","k":"l"},{"i":112.3,"p":188,"t":"190.55","k":"d"},{"i":112.3,"p":183.6,"t":"185","k":"l"},{"i":112.3,"p":83.9,"t":"77.1","k":"d"}]},"mark":{"type":"text","align":"left","baseline":"middle","fontSize":13},"encoding":{"text":{"field":"t"},"color":{"condition":{"test":"datum.k==='l'","value":"#ffffff"},"value":"#111111"}}},
{"data":{"values":[{"i":0.614,"i2":1.3,"p":79,"p2":235.34}]},"mark":{"type":"rect","color":"#2c3b5a"},"encoding":{"x2":{"field":"i2"},"y2":{"field":"p2"}}},
{"data":{"values":[{"i":1.3,"i2":110.934,"p":79}]},"mark":{"type":"rule","color":"black","strokeWidth":1.5},"encoding":{"x2":{"field":"i2"}}}
]},
{"width":898,"height":64,
"encoding":{"x":{"field":"i","type":"quantitative","scale":{"domain":[0.614,110.934],"nice":false,"zero":false,"padding":0},"axis":{"orient":"bottom","offset":-17,"values":[22.85,42.87,65.97,85.87],"labelExpr":"datum.value<30?'Sep':datum.value<50?'Oct':datum.value<75?'Nov':'Dec'","grid":false,"tickSize":5,"tickColor":"black","domainColor":"black","labelAlign":"left","labelBaseline":"top","labelPadding":-3,"labelOffset":3,"labelFontSize":13,"labelColor":"black","labelFlush":false,"labelOverlap":false}},"y":{"field":"v","type":"quantitative","scale":{"domain":[-4250000,11750000],"nice":false,"zero":false},"axis":{"orient":"right","values":[2000000,7000000],"labels":false,"grid":false,"tickSize":5,"tickColor":"black","domainColor":"black","domainWidth":1.5}}},
"layer":[
{"data":{"values":[{"i":1.5,"i2":31.5,"v":10000000,"v2":0},{"i":31.5,"i2":35.5,"v":5750000,"v2":0},{"i":50.5,"i2":93.5,"v":10000000,"v2":0},{"i":99.5,"i2":100.5,"v":10000000,"v2":0}]},"mark":{"type":"rect","color":"#00ff00"},"encoding":{"x2":{"field":"i2"},"y2":{"field":"v2"}}},
{"data":{"values":[{"v":2000000,"i":100.5,"i2":110.934},{"v":7000000,"i":100.5,"i2":110.934}]},"mark":{"type":"rule","color":"#aaa","strokeDash":[1,2]},"encoding":{"x2":{"field":"i2"}}},
{"data":{"values":[{"s":"a","i":35.5,"v":2500000},{"s":"a","i":41,"v":2250000},{"s":"a","i":46,"v":2000000},{"s":"a","i":50.5,"v":2000000},{"s":"b","i":93.5,"v":2750000},{"s":"b","i":99.5,"v":2750000}]},"mark":{"type":"line","color":"#5bee5b","strokeWidth":2,"interpolate":"step-after"},"encoding":{"detail":{"field":"s"}}},
{"data":{"values":[{"i":35.5,"i2":50.5,"v":150000},{"i":93.5,"i2":99.5,"v":150000}]},"mark":{"type":"rule","color":"#ffa050","strokeWidth":1.5},"encoding":{"x2":{"field":"i2"}}},
{"data":{"name":"volume"},"mark":{"type":"bar","orient":"vertical","size":2,"opacity":1},"encoding":{"y":{"field":"v","type":"quantitative","stack":null},"y2":{"datum":0},"color":{"field":"d","type":"nominal","legend":null,"scale":{"domain":["up","down"],"range":["#0a7d0a","#ff0000"]}}}},
{"data":{"values":[{"i":2,"i2":5.5,"v":2500000},{"i":5.5,"i2":9,"v":3000000},{"i":9,"i2":11,"v":3500000},{"i":11,"i2":13,"v":4000000},{"i":14,"i2":15.5,"v":4000000},{"i":17,"i2":18,"v":3750000},{"i":26,"i2":27,"v":3250000},{"i":51,"i2":53,"v":2000000},{"i":53,"i2":57,"v":2500000},{"i":57,"i2":62,"v":2750000},{"i":62,"i2":64,"v":3500000},{"i":64,"i2":66.5,"v":4000000},{"i":66.5,"i2":70,"v":4250000},{"i":78,"i2":79,"v":2750000},{"i":83,"i2":84,"v":2750000},{"i":86,"i2":87,"v":2750000},{"i":88,"i2":90,"v":2750000},{"i":92,"i2":93,"v":2750000},{"i":94,"i2":95,"v":2750000},{"i":99,"i2":100,"v":2750000}]},"mark":{"type":"rule","color":"#ff00ff","strokeWidth":2},"encoding":{"x2":{"field":"i2"}}},
{"data":{"values":[{"i":69,"v":3250000}]},"mark":{"type":"point","filled":true,"opacity":1,"color":"#000","size":144,"shape":"circle"}},
{"data":{"values":[{"i":14,"v":0,"t":"0","k":"o"},{"i":21,"v":-1000000,"t":"0","k":"o"},{"i":30,"v":-250000,"t":"0","k":"o"},{"i":64,"v":0,"t":"0","k":"o"},{"i":83,"v":0,"t":"0","k":"o"},{"i":15,"v":250000,"t":"1","k":"b"},{"i":26,"v":-500000,"t":"1","k":"b"},{"i":44,"v":-1500000,"t":"1","k":"b"},{"i":73,"v":-1250000,"t":"1","k":"b"}]},"mark":{"type":"point","filled":true,"opacity":1,"size":144,"shape":"circle"},"encoding":{"color":{"condition":{"test":"datum.k==='b'","value":"#0000ff"},"value":"#ff6a20"}}},
{"data":{"values":[{"i":14,"v":0,"t":"0"},{"i":21,"v":-1000000,"t":"0"},{"i":30,"v":-250000,"t":"0"},{"i":64,"v":0,"t":"0"},{"i":83,"v":0,"t":"0"},{"i":15,"v":250000,"t":"1"},{"i":26,"v":-500000,"t":"1"},{"i":44,"v":-1500000,"t":"1"},{"i":73,"v":-1250000,"t":"1"}]},"mark":{"type":"text","fontSize":10,"fontWeight":"bold","color":"white","align":"center","baseline":"middle"},"encoding":{"text":{"field":"t"}}},
{"data":{"values":[{"i":1.72,"i2":21.5,"v":10750000,"v2":7500000},{"i":32.06,"i2":72.85,"v":11000000,"v2":5750000}]},"mark":{"type":"rect","color":"white"},"encoding":{"x2":{"field":"i2"},"y2":{"field":"v2"}}},
{"data":{"values":[{"i":1.84,"v":9000000,"t":"VJC -","k":"plain"},{"i":5.86,"v":9000000,"t":"Volume","k":"vol"},{"i":11.5,"v":9000000,"t":"= 2,115,800.00","k":"plain"}]},"mark":{"type":"text","align":"left","baseline":"middle","fontSize":12},"encoding":{"text":{"field":"t"},"color":{"condition":{"test":"datum.k==='vol'","value":"#1f8a3a"},"value":"#000"}}},
{"data":{"values":[{"i":32.06,"v":8500000,"t":"F.O.X SYSTEM Tel +84.389.352.357"}]},"mark":{"type":"text","align":"left","baseline":"middle","fontSize":20.3,"color":"#0000ff","dx":1},"encoding":{"text":{"field":"t"}}},
{"data":{"values":[{"i":111.92,"i2":118.43,"v":7750000,"v2":4500000,"k":"avg"},{"i":111.92,"i2":118.43,"v":3750000,"v2":500000,"k":"last"}]},"mark":{"type":"rect"},"encoding":{"x2":{"field":"i2"},"y2":{"field":"v2"},"color":{"condition":{"test":"datum.k==='avg'","value":"#ff00ff"},"value":"#0a7d0a"}}},
{"data":{"values":[{"i":111.7,"v":2115800}]},"mark":{"type":"point","filled":true,"opacity":1,"color":"#0a7d0a","size":130,"shape":"triangle-left"}},
{"data":{"values":[{"i":111.98,"v":6250000,"t":"2,252,445","k":"d"},{"i":111.98,"v":2115800,"t":"2,115,800","k":"l"}]},"mark":{"type":"text","align":"left","baseline":"middle","fontSize":11.7},"encoding":{"text":{"field":"t"},"color":{"condition":{"test":"datum.k==='l'","value":"white"},"value":"#111"}}},
{"data":{"values":[{"i":0.614,"i2":1.3,"v":-4250000,"v2":11750000}]},"mark":{"type":"rect","color":"#2c3b5a"},"encoding":{"x2":{"field":"i2"},"y2":{"field":"v2"}}},
{"data":{"values":[{"i":1.3,"i2":110.934,"v":-4250000}]},"mark":{"type":"rule","color":"black","strokeWidth":1.5},"encoding":{"x2":{"field":"i2"}}}
]},
{"width":898,"height":54,
"encoding":{"x":{"field":"i","type":"quantitative","scale":{"domain":[0.614,110.934],"nice":false,"zero":false,"padding":0},"axis":{"orient":"bottom","offset":-16,"values":[22.85,42.87,65.97,85.87],"labelExpr":"datum.value<30?'Sep':datum.value<50?'Oct':datum.value<75?'Nov':'Dec'","grid":false,"tickSize":5,"tickColor":"black","domainColor":"black","labelAlign":"left","labelBaseline":"top","labelPadding":-3,"labelOffset":3,"labelFontSize":13,"labelColor":"black","labelFlush":false,"labelOverlap":false}},"y":{"field":"s","type":"quantitative","scale":{"domain":[-6.36,12.72],"nice":false,"zero":false},"axis":{"orient":"right","values":[0],"grid":false,"tickSize":5,"tickColor":"black","domainColor":"black","domainWidth":1.5,"labelPadding":32,"labelAlign":"left","labelFontSize":13,"labelColor":"black"}}},
"layer":[
{"data":{"values":[{"i":1.5,"i2":31.5,"s":10.25,"s2":-0.71},{"i":50.5,"i2":70.5,"s":10.25,"s2":-0.71},{"i":78.5,"i2":92.5,"s":10.25,"s2":-0.71},{"i":99.5,"i2":100.5,"s":10.25,"s2":-0.71}]},"mark":{"type":"rect","color":"#ff00ff"},"encoding":{"x2":{"field":"i2"},"y2":{"field":"s2"}}},
{"data":{"values":[{"i":1.5,"i2":20.5,"s":12,"s2":10.25,"k":"Sideways"},{"i":20.5,"i2":22.5,"s":12,"s2":10.25,"k":"Rising"},{"i":22.5,"i2":23.5,"s":12,"s2":10.25,"k":"Sideways"},{"i":23.5,"i2":24.5,"s":12,"s2":10.25,"k":"Falling"},{"i":24.5,"i2":27.5,"s":12,"s2":10.25,"k":"Sideways"},{"i":27.5,"i2":31.5,"s":12,"s2":10.25,"k":"Rising"},{"i":31.5,"i2":33.5,"s":12,"s2":10.25,"k":"Sideways"},{"i":33.5,"i2":45.5,"s":12,"s2":10.25,"k":"Falling"},{"i":45.5,"i2":60.5,"s":12,"s2":10.25,"k":"Rising"},{"i":60.5,"i2":61.5,"s":12,"s2":10.25,"k":"Sideways"},{"i":61.5,"i2":64.5,"s":12,"s2":10.25,"k":"Rising"},{"i":64.5,"i2":67.5,"s":12,"s2":10.25,"k":"Sideways"},{"i":67.5,"i2":75.5,"s":12,"s2":10.25,"k":"Falling"},{"i":75.5,"i2":78.5,"s":12,"s2":10.25,"k":"Sideways"},{"i":78.5,"i2":83.5,"s":12,"s2":10.25,"k":"Rising"},{"i":83.5,"i2":84.5,"s":12,"s2":10.25,"k":"Sideways"},{"i":84.5,"i2":88.5,"s":12,"s2":10.25,"k":"Rising"},{"i":88.5,"i2":89.5,"s":12,"s2":10.25,"k":"Sideways"},{"i":89.5,"i2":98.5,"s":12,"s2":10.25,"k":"Falling"},{"i":98.5,"i2":99.5,"s":12,"s2":10.25,"k":"Sideways"},{"i":99.5,"i2":100.5,"s":12,"s2":10.25,"k":"Rising"}]},"mark":{"type":"rect"},"encoding":{"y2":{"field":"s2"},"x2":{"field":"i2"},"color":{"field":"k","type":"nominal","legend":null,"scale":{"domain":["Rising","Sideways","Falling"],"range":["#0000ff","#ffff00","#ff0000"]}}}},
{"data":{"values":[{"i":100.5,"i2":110.934,"s":0}]},"mark":{"type":"rule","color":"#aaa","strokeDash":[1,2]},"encoding":{"x2":{"field":"i2"}}},
{"data":{"values":[{"i":1.5,"s":6.4},{"i":28.5,"s":7.4},{"i":31.5,"s":2.5},{"i":34.5,"s":0},{"i":45.5,"s":4.2},{"i":47.5,"s":2.5},{"i":50.5,"s":8.1},{"i":51.5,"s":9.5},{"i":60.5,"s":6.4},{"i":61.5,"s":8.1},{"i":64.5,"s":6.4},{"i":69.5,"s":5.7},{"i":70.5,"s":2.5},{"i":78.5,"s":9.2},{"i":82.5,"s":8.5},{"i":83.5,"s":6.4},{"i":86.5,"s":9.2},{"i":87.5,"s":7.8},{"i":88.5,"s":6},{"i":92.5,"s":4.2},{"i":93.5,"s":1.1},{"i":98.5,"s":2.5},{"i":99.5,"s":6},{"i":100.5,"s":6}]},"mark":{"type":"line","color":"#0000ff","strokeWidth":2,"interpolate":"step-after"}},
{"data":{"values":[{"i":2.09,"i2":100,"s":5.4}]},"mark":{"type":"rule","color":"black","strokeWidth":2},"encoding":{"x2":{"field":"i2"}}},
{"data":{"values":[{"i":27,"s":6},{"i":46.9,"s":2.5},{"i":79,"s":7.8}]},"mark":{"type":"point","filled":true,"opacity":1,"color":"#0000ff","size":130,"shape":"circle"}},
{"data":{"values":[{"i":44,"s":0.35},{"i":74,"s":2.5}]},"mark":{"type":"point","filled":true,"opacity":1,"color":"#33bb33","size":130,"shape":"circle"}},
{"data":{"values":[{"i":50.9,"s":2.1},{"i":73,"s":2.5},{"i":75.9,"s":2.5},{"i":79,"s":2.5}]},"mark":{"type":"point","filled":true,"opacity":1,"fill":"white","stroke":"#ffff00","strokeWidth":2.5,"size":110,"shape":"circle"}},
{"data":{"values":[{"i":50.9,"s":2.1,"t":"8"},{"i":73,"s":2.5,"t":"8"},{"i":75.9,"s":2.5,"t":"8"},{"i":79,"s":2.5,"t":"8"}]},"mark":{"type":"text","fontSize":10,"fontWeight":"bold","color":"#ffe000","align":"center","baseline":"middle"},"encoding":{"text":{"field":"t"}}},
{"data":{"values":[{"i":105.77,"s":5.65}]},"mark":{"type":"point","filled":true,"opacity":1,"color":"#0a8a0a","stroke":"#055","size":90,"shape":"circle"}},
{"data":{"values":[{"i":105.77,"s":1.4}]},"mark":{"type":"point","filled":true,"opacity":1,"color":"#33bb33","stroke":"#055","size":90,"shape":"circle"}},
{"data":{"values":[{"i":14,"s":-3.5,"k":"o"},{"i":21,"s":-3.5,"k":"o"},{"i":30,"s":-3.5,"k":"o"},{"i":64,"s":-3.5,"k":"o"},{"i":83,"s":-3.5,"k":"o"},{"i":15,"s":-3.5,"k":"b"},{"i":26,"s":-3.5,"k":"b"},{"i":44,"s":-3.5,"k":"b"},{"i":73,"s":-3.5,"k":"b"}]},"mark":{"type":"point","filled":true,"opacity":1,"size":144,"shape":"circle"},"encoding":{"color":{"condition":{"test":"datum.k==='b'","value":"#0000ff"},"value":"#ff6a20"}}},
{"data":{"values":[{"i":14,"s":-3.5,"t":"0"},{"i":21,"s":-3.5,"t":"0"},{"i":30,"s":-3.5,"t":"0"},{"i":64,"s":-3.5,"t":"0"},{"i":83,"s":-3.5,"t":"0"},{"i":15,"s":-3.5,"t":"1"},{"i":26,"s":-3.5,"t":"1"},{"i":44,"s":-3.5,"t":"1"},{"i":73,"s":-3.5,"t":"1"}]},"mark":{"type":"text","fontSize":10,"fontWeight":"bold","color":"white","align":"center","baseline":"middle"},"encoding":{"text":{"field":"t"}}},
{"data":{"values":[{"i":1.72,"i2":20.64,"s":12,"s2":6.7}]},"mark":{"type":"rect","color":"white"},"encoding":{"x2":{"field":"i2"},"y2":{"field":"s2"}}},
{"data":{"values":[{"i":1.84,"s":9.36,"t":"VJC -","k":"plain"},{"i":5.86,"s":9.36,"t":"Muc do an toan","k":"name"},{"i":16.1,"s":9.36,"t":"= 6.00","k":"plain"}]},"mark":{"type":"text","align":"left","baseline":"middle","fontSize":12},"encoding":{"text":{"field":"t"},"color":{"condition":{"test":"datum.k==='name'","value":"#0000ff"},"value":"#000"}}},
{"data":{"values":[{"i":111.92,"i2":113.8,"s":8.5,"s2":3.9}]},"mark":{"type":"rect","color":"#0000ff"},"encoding":{"x2":{"field":"i2"},"y2":{"field":"s2"}}},
{"data":{"values":[{"i":111.7,"s":6}]},"mark":{"type":"point","filled":true,"opacity":1,"color":"#0000ff","size":130,"shape":"triangle-left"}},
{"data":{"values":[{"i":112.9,"s":6,"t":"6"}]},"mark":{"type":"text","align":"center","baseline":"middle","fontSize":13,"color":"white"},"encoding":{"text":{"field":"t"}}},
{"data":{"values":[{"i":0.614,"i2":1.3,"s":-6.36,"s2":12.72}]},"mark":{"type":"rect","color":"#2c3b5a"},"encoding":{"x2":{"field":"i2"},"y2":{"field":"s2"}}}
]}
]}
